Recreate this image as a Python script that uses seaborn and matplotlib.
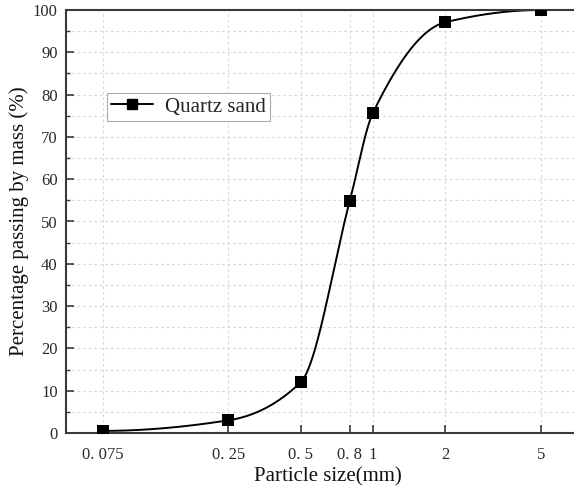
import numpy as np
import pandas as pd
import matplotlib
matplotlib.use("Agg")
import matplotlib.pyplot as plt
from matplotlib.lines import Line2D
from matplotlib.ticker import FixedLocator, NullLocator, MultipleLocator
import seaborn as sns

# Grading data of the quartz sand
particle_size = [0.075, 0.25, 0.5, 0.8, 1.0, 2.0, 5.0]
passing = [0.5, 3.0, 12.0, 54.8, 75.7, 97.1, 100.0]
x_tick_labels = ["0. 075", "0. 25", "0. 5", "0. 8", "1", "2", "5"]
y_ticks = list(range(0, 101, 10))
series_name = "Quartz sand"


def pchip(x, y, xq):
    """Monotone piecewise cubic Hermite interpolation (Fritsch-Carlson)."""
    x = np.asarray(x, float)
    y = np.asarray(y, float)
    h = np.diff(x)
    delta = np.diff(y) / h
    n = len(x)
    d = np.zeros(n)
    for k in range(1, n - 1):
        if delta[k - 1] * delta[k] > 0:
            w1 = 2 * h[k] + h[k - 1]
            w2 = h[k] + 2 * h[k - 1]
            d[k] = (w1 + w2) / (w1 / delta[k - 1] + w2 / delta[k])
    def end(h0, h1, d0, d1):
        dd = ((2 * h0 + h1) * d0 - h0 * d1) / (h0 + h1)
        if np.sign(dd) != np.sign(d0):
            dd = 0.0
        elif np.sign(d0) != np.sign(d1) and abs(dd) > abs(3 * d0):
            dd = 3 * d0
        return dd
    d[0] = end(h[0], h[1], delta[0], delta[1])
    d[-1] = end(h[-1], h[-2], delta[-1], delta[-2])
    idx = np.clip(np.searchsorted(x, xq) - 1, 0, n - 2)
    t = (xq - x[idx]) / h[idx]
    h00 = 2 * t**3 - 3 * t**2 + 1
    h10 = t**3 - 2 * t**2 + t
    h01 = -2 * t**3 + 3 * t**2
    h11 = t**3 - t**2
    return (h00 * y[idx] + h10 * h[idx] * d[idx]
            + h01 * y[idx + 1] + h11 * h[idx] * d[idx + 1])


logx = np.log10(particle_size)
xq = np.linspace(logx[0], logx[-1], 600)
curve = pd.DataFrame({"size": 10**xq, "passing": pchip(logx, passing, xq)})
points = pd.DataFrame({"size": particle_size, "passing": passing})

sns.set_theme(style="white")
plt.rcParams["font.family"] = ["Liberation Serif", "DejaVu Serif"]

W, H = 574, 495
fig = plt.figure(figsize=(W / 100, H / 100), dpi=100)
x_left, x_right = 0.0526, 8.0
left_px, top_px, bottom_px = 66, 10, 433
width_px = 240 * (np.log10(x_right) - np.log10(x_left))
ax = fig.add_axes([left_px / W, (H - bottom_px) / H, width_px / W,
                   (bottom_px - top_px) / H])

sns.lineplot(data=curve, x="size", y="passing", ax=ax, color="black",
             linewidth=1.4, sort=False)
sns.scatterplot(data=points, x="size", y="passing", ax=ax, marker="s",
                s=64, color="black", edgecolor="black", linewidth=0, zorder=5)

ax.set_xscale("log")
ax.set_xlim(x_left, x_right)
ax.set_ylim(0, 100)
ax.xaxis.set_major_locator(FixedLocator(particle_size))
ax.xaxis.set_minor_locator(NullLocator())
ax.set_xticklabels(x_tick_labels)
ax.set_yticks(y_ticks)
ax.yaxis.set_minor_locator(MultipleLocator(5))

ax.grid(True, which="major", axis="both", color="#d9d9d9",
        linestyle=(0, (2.5, 2.5)), linewidth=0.8)
ax.grid(True, which="minor", axis="y", color="#d9d9d9",
        linestyle=(0, (2.5, 2.5)), linewidth=0.8)
ax.set_axisbelow(True)

for side in ["left", "bottom", "top"]:
    ax.spines[side].set_color("#3a3a3a")
    ax.spines[side].set_linewidth(1.5)
ax.spines["right"].set_visible(False)

ax.tick_params(axis="both", which="major", direction="in", length=5.5,
               width=1.2, color="#3a3a3a", labelsize=12,
               labelcolor="#2a2a2a", left=True, bottom=True)
ax.tick_params(axis="x", which="major", pad=10)
ax.tick_params(axis="y", which="major", pad=6)
ax.tick_params(axis="y", which="minor", direction="in", length=3,
               width=1.0, color="#3a3a3a", left=True)

ax.set_xlabel("Particle size(mm)", fontsize=15, color="#111111", labelpad=3)
ax.set_ylabel("Percentage passing by mass (%)", fontsize=15,
              color="#111111", labelpad=3)

handle = Line2D([], [], color="black", linewidth=1.4, marker="s",
                markersize=7)
leg = ax.legend([handle], [series_name], loc="upper left",
                bbox_to_anchor=((107 - left_px) / width_px,
                                (bottom_px - 93) / (bottom_px - top_px)),
                fontsize=15, frameon=True, fancybox=False,
                edgecolor="#aaaaaa", framealpha=1, handlelength=2.0,
                borderpad=0.2, handletextpad=0.58, borderaxespad=0)
leg.get_frame().set_linewidth(0.8)

fig.savefig("out.png", dpi=100)
